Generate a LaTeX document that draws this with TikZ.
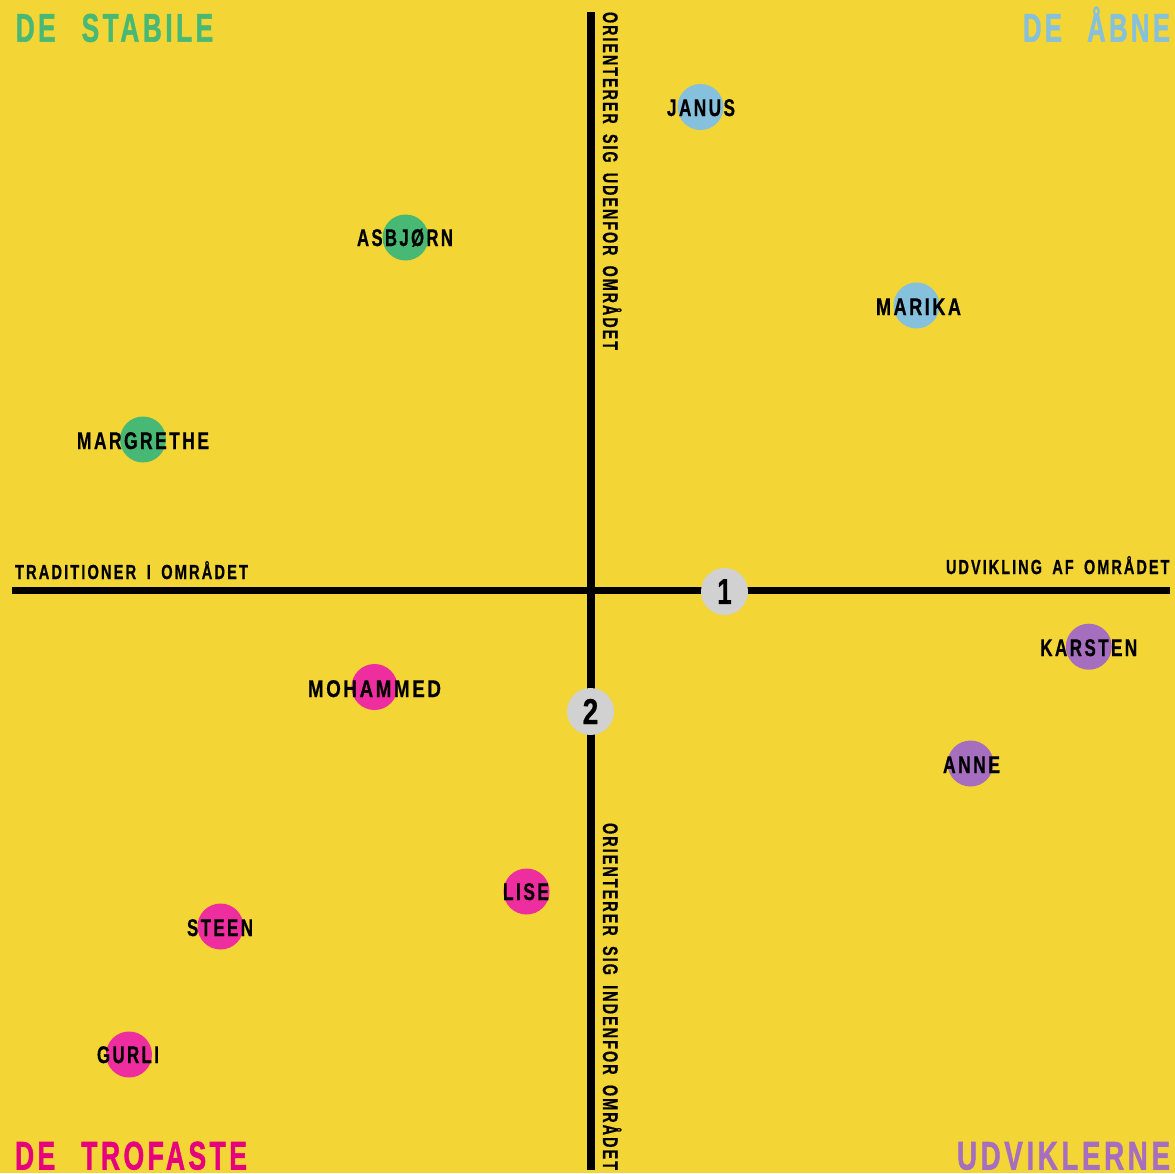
\documentclass[tikz,border=0pt]{standalone}
\usepackage{fontspec}
\usepackage{graphicx}
\setmainfont{Liberation Sans}
\newfontfamily\labfont[LetterSpace=14,WordSpace=1.7,FakeBold=0.7]{Liberation Sans}
\newfontfamily\titfont[LetterSpace=13,WordSpace=2.4,FakeBold=1.4]{Liberation Sans}
\definecolor{bgyellow}{RGB}{243,213,53}
\definecolor{cgreen}{RGB}{71,185,117}
\definecolor{cblue}{RGB}{133,192,221}
\definecolor{cpink}{RGB}{238,45,158}
\definecolor{tmagenta}{RGB}{230,0,126}
\definecolor{cpurple}{RGB}{166,110,190}
\definecolor{cgray}{RGB}{209,209,209}
\newlength\fitWd
\newlength\fitHt
% #1 font, #2 width, #3 cap height, #4 text
\newcommand\fitt[4]{%
  \settowidth\fitWd{#1\bfseries\fontsize{20}{20}\selectfont #4}%
  \settoheight\fitHt{#1\bfseries\fontsize{20}{20}\selectfont H}%
  \pgfmathsetmacro\fitSx{#2/\fitWd}%
  \pgfmathsetmacro\fitSy{#3/\fitHt}%
  \scalebox{\fitSx}[\fitSy]{#1\bfseries\fontsize{20}{20}\selectfont #4}%
}
\newcommand\nm[2]{\fitt{\labfont}{#1}{16.6}{#2}}
\newcommand\ttl[2]{\fitt{\titfont}{#1}{27.5}{#2}}
\newcommand\ax[3]{\fitt{\labfont}{#1}{#2}{#3}}
\begin{document}
\begin{tikzpicture}[x=1pt,y=-1pt,
  person/.style={circle, minimum size=46pt, inner sep=0pt, draw=none, fill=#1},
  numdot/.style={circle, minimum size=47pt, inner sep=0pt, draw=none, fill=cgray},
  lbl/.style={inner sep=0pt, outer sep=0pt, text=black},
  axisline/.style={line width=7.8pt, black},
  numtxt/.style={inner sep=0pt, outer sep=0pt, text=black, font=\labfont\bfseries\fontsize{36}{36}\selectfont}]
\useasboundingbox (0,0) rectangle (1175,1173);
\fill[bgyellow] (0,0) rectangle (1175,1173);
% axes
\coordinate (hL) at (12,590.5);
\coordinate (hR) at (1170,590.5);
\coordinate (vT) at (591,12);
\coordinate (vB) at (591,1170);
\draw[axisline] (hL) -- (hR);
\draw[axisline] (vT) -- (vB);
% numbered markers
\node[numdot] (one) at (724.5,591.5) {};
\node[numtxt] (oneT) at (one.center) {\scalebox{0.72}[1]{1}};
\node[numdot] (two) at (590.5,711.5) {};
\node[numtxt] (twoT) at (two.center) {\scalebox{0.78}[1]{2}};
% titles
\node[lbl, anchor=base west, text=cgreen] (tStab) at (15.7,41.7) {\ttl{197.5}{DE STABILE}};
\node[lbl, anchor=base east, text=cblue] (tAab) at (1170,41.7) {\ttl{147}{DE ÅBNE}};
\node[lbl, anchor=base west, text=tmagenta] (tTro) at (15,1169.5) {\ttl{232}{DE TROFASTE}};
\node[lbl, anchor=base east, text=cpurple] (tUdv) at (1170,1169.5) {\ttl{213}{UDVIKLERNE}};
% axis labels
\node[lbl, anchor=base west] (aTrad) at (15,579) {\ax{233}{14}{TRADITIONER I OMRÅDET}};
\node[lbl, anchor=base east] (aUdv) at (1169.5,574) {\ax{223.5}{14}{UDVIKLING AF OMRÅDET}};
\node[lbl, anchor=base west, rotate=-90] (aUd) at (603,12) {\ax{338}{14.5}{ORIENTERER SIG UDENFOR OMRÅDET}};
\node[lbl, anchor=base west, rotate=-90] (aInd) at (603,823) {\ax{347}{14.5}{ORIENTERER SIG INDENFOR OMRÅDET}};
% persons
\node[person=cblue] (pJanus) at (700.5,107) {};
\node[person=cgreen] (pAsb) at (405.5,237.5) {};
\node[person=cblue] (pMarika) at (916.5,305.5) {};
\node[person=cgreen] (pMarg) at (143,439.5) {};
\node[person=cpink] (pMoh) at (374.5,687) {};
\node[person=cpurple] (pKar) at (1088.8,646.7) {};
\node[person=cpurple] (pAnne) at (970.5,763.5) {};
\node[person=cpink] (pLise) at (526.5,891.5) {};
\node[person=cpink] (pSteen) at (220.5,926.5) {};
\node[person=cpink] (pGurli) at (129,1054.5) {};
\node[lbl, anchor=base] (nJanus) at (701,116) {\nm{68}{JANUS}};
\node[lbl, anchor=base] (nAsb) at (405,246) {\nm{96}{ASBJØRN}};
\node[lbl, anchor=base] (nMarika) at (918.5,315) {\nm{85}{MARIKA}};
\node[lbl, anchor=base] (nMarg) at (143,449) {\nm{132}{MARGRETHE}};
\node[lbl, anchor=base] (nMoh) at (374.5,697) {\nm{133}{MOHAMMED}};
\node[lbl, anchor=base] (nKar) at (1088.7,656) {\nm{97}{KARSTEN}};
\node[lbl, anchor=base] (nAnne) at (971.5,773) {\nm{57}{ANNE}};
\node[lbl, anchor=base] (nLise) at (526,900) {\nm{46}{LISE}};
\node[lbl, anchor=base] (nSteen) at (220,936) {\nm{66}{STEEN}};
\node[lbl, anchor=base] (nGurli) at (128,1063) {\nm{62}{GURLI}};
\end{tikzpicture}
\end{document}
